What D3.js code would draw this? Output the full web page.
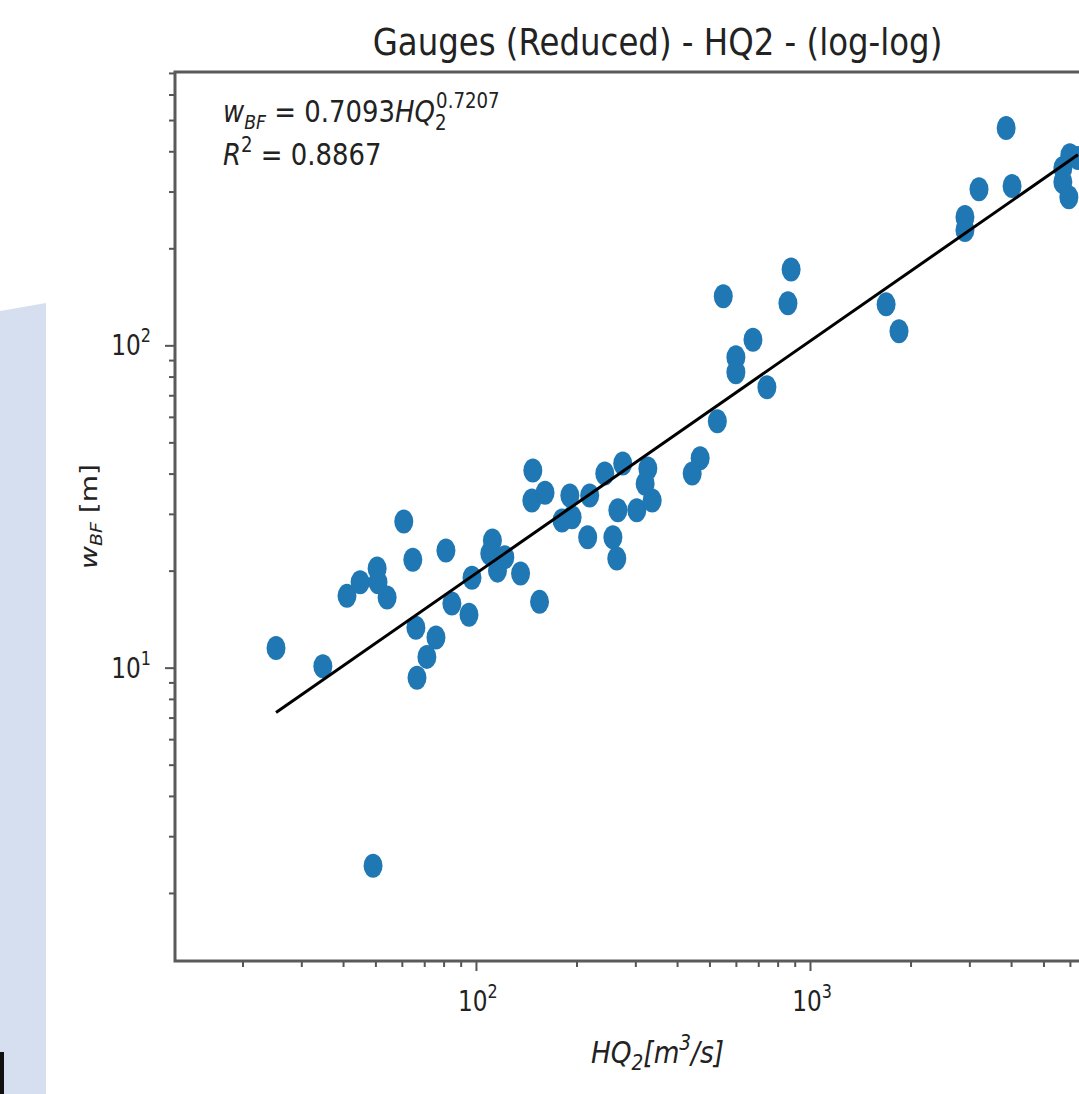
<!DOCTYPE html>
<html>
<head>
<meta charset="utf-8">
<script src="https://cdn.jsdelivr.net/npm/d3@7"></script>
<style>
  body { margin: 0; background: #fff; }
  svg { display: block; }
  text { font-family: "DejaVu Sans", sans-serif; fill: #222; }
</style>
</head>
<body>
<script>
// HQ2 [m3/s] and bankfull width [m]
var hq = [25.2, 34.8, 41.1, 45.0, 50.6, 50.9, 54.2, 60.8, 64.7, 81.3,
          66.1, 75.9, 71.3, 66.6, 84.7, 95.3, 97.3, 49.2, 112, 110,
          122, 116, 136, 155, 148, 147, 161, 191, 181, 194,
          219, 243, 275, 216, 257, 264, 266, 303, 327, 321,
          337, 469, 444, 528, 600, 600, 675, 743, 550, 859,
          878, 1690, 1847, 2910, 2910, 3206, 4027, 3866, 5997, 5715,
          5715, 5957, 6340]
var wbf = [11.5, 10.1, 16.7, 18.4, 20.3, 18.4, 16.5, 28.4, 21.6, 23.1,
           13.3, 12.4, 10.8, 9.3, 15.8, 14.6, 19.0, 2.43, 24.8, 22.6,
           22.0, 20.0, 19.6, 16.0, 40.9, 33.0, 34.9, 34.2, 28.6, 29.3,
           34.2, 40.0, 43.0, 25.4, 25.4, 21.8, 30.8, 30.8, 41.5, 37.2,
           33.0, 44.6, 40.0, 58.1, 91.8, 82.5, 104, 74.1, 142, 135,
           172, 134, 110.5, 250, 228, 305, 312, 472, 389, 355,
           321, 288, 381]
// fit w = a * HQ^b
var fitCoef = 0.7093
var fitExp = 0.7207
var r2 = 0.8867
var titleText = "Gauges (Reduced) - HQ2 - (log-log)"

var main = function() {
  var width = 1079, height = 1094

  var svg = d3.select("body").append("svg")
              .attr("width", width)
              .attr("height", height)

  // pale panel + dark bar on the left edge of the screenshot
  svg.append("polygon")
     .attr("points", "0,311 46,303 46,1094 0,1094")
     .attr("fill", "#d6dfef")
  svg.append("rect")
     .attr("x", 0).attr("y", 1052).attr("width", 4).attr("height", 42)
     .attr("fill", "#111")

  var pl = 175, pr = 1140, pt = 72, pb = 961

  var x = d3.scaleLog().domain([12.56, 9727]).range([pl, pr])
  var y = d3.scaleLog().domain([1.23, 704.7]).range([pb, pt])

  var pts = hq.map(function(d, i) { return [d, wbf[i]] })

  // points
  svg.append("g").selectAll("ellipse")
     .data(pts)
     .enter()
       .append("ellipse")
       .attr("cx", function(d) { return x(d[0]) })
       .attr("cy", function(d) { return y(d[1]) })
       .attr("rx", 9.5)
       .attr("ry", 12)
       .attr("fill", "#1f77b4")

  // fitted line across the data range
  var fit = [d3.min(hq), d3.max(hq)].map(function(q) { return [q, fitCoef * Math.pow(q, fitExp)] })
  svg.append("path")
     .attr("d", d3.line().x(function(d) { return x(d[0]) }).y(function(d) { return y(d[1]) })(fit))
     .attr("stroke", "#000")
     .attr("stroke-width", 3)
     .attr("fill", "none")

  // ticks
  var isMajor = function(v) { return Math.abs(Math.log10(v) - Math.round(Math.log10(v))) < 1e-9 }
  var xt = x.ticks().filter(function(v) { return v >= x.domain()[0] && v <= x.domain()[1] })
  var yt = y.ticks().filter(function(v) { return v >= y.domain()[0] && v <= y.domain()[1] })
  var notMajor = function(v) { return !isMajor(v) }

  svg.append("g").attr("transform", "translate(0," + pb + ")")
     .call(d3.axisBottom(x).tickValues(xt.filter(notMajor)).tickSize(6).tickFormat(""))
  svg.append("g").attr("transform", "translate(0," + pb + ")")
     .call(d3.axisBottom(x).tickValues(xt.filter(isMajor)).tickSize(10).tickFormat(""))
  svg.append("g").attr("transform", "translate(" + pl + ",0)")
     .call(d3.axisLeft(y).tickValues(yt.filter(notMajor)).tickSize(6).tickFormat(""))
  svg.append("g").attr("transform", "translate(" + pl + ",0)")
     .call(d3.axisLeft(y).tickValues(yt.filter(isMajor)).tickSize(10).tickFormat(""))
  svg.selectAll(".domain").remove()
  svg.selectAll(".tick line").attr("stroke", "#555").attr("stroke-width", 2)

  // frame
  svg.append("rect")
     .attr("x", pl).attr("y", pt)
     .attr("width", pr - pl).attr("height", pb - pt)
     .attr("fill", "none")
     .attr("stroke", "#5a5a5a")
     .attr("stroke-width", 3)

  // tick labels, 10^n
  var powLabel = function(px, py, anchor, n) {
    var g = svg.append("g").attr("transform", "translate(" + px + "," + py + ") scale(0.8,1)")
    var t = g.append("text").attr("text-anchor", anchor).attr("font-size", 29)
    t.append("tspan").text("10")
    t.append("tspan").attr("font-size", 20).attr("dy", -13).text(n)
  }
  xt.filter(isMajor).forEach(function(v) {
    powLabel(x(v) + 2, 1011, "middle", Math.round(Math.log10(v)))
  })
  yt.filter(isMajor).forEach(function(v) {
    powLabel(151, y(v) + 10, "end", Math.round(Math.log10(v)))
  })

  // title
  svg.append("g").attr("transform", "translate(" + ((pl + pr) / 2) + ",55) scale(0.853,1)")
     .append("text")
     .attr("text-anchor", "middle")
     .attr("font-size", 38)
     .text(titleText)

  // x label
  var xl = svg.append("g").attr("transform", "translate(" + ((pl + pr) / 2) + ",1063) scale(0.88,1)")
              .append("text").attr("text-anchor", "middle").attr("font-size", 30).attr("font-style", "italic")
  xl.append("tspan").text("HQ")
  xl.append("tspan").attr("font-size", 21).attr("dy", 7).text("2")
  xl.append("tspan").attr("dy", -7).text("[m")
  xl.append("tspan").attr("font-size", 21).attr("dy", -13).text("3")
  xl.append("tspan").attr("dy", 13).text("/s]")

  // y label
  var yl = svg.append("g").attr("transform", "translate(97," + ((pt + pb) / 2) + ") rotate(-90) scale(1,0.85)")
              .append("text").attr("text-anchor", "middle").attr("font-size", 28)
  yl.append("tspan").attr("font-style", "italic").text("w")
  yl.append("tspan").attr("font-style", "italic").attr("font-size", 19).attr("dy", 6).text("BF")
  yl.append("tspan").attr("dy", -6).text(" [m]")

  // fit annotation (sub- and superscript stacked, as mathtext does)
  var a1 = svg.append("g").attr("transform", "translate(223,122) scale(0.865,1)")
              .append("text").attr("font-size", 30)
  a1.append("tspan").attr("font-style", "italic").text("w")
  a1.append("tspan").attr("font-style", "italic").attr("font-size", 20).attr("dy", 7).text("BF")
  a1.append("tspan").attr("dy", -7).text(" = " + fitCoef.toFixed(4))
  a1.append("tspan").attr("font-style", "italic").text("HQ")
  a1.append("tspan").attr("font-size", 21).attr("dy", 8).text("2")
  a1.append("tspan").attr("font-size", 21).attr("dx", -12).attr("dy", -22).text(fitExp.toFixed(4))

  var a2 = svg.append("g").attr("transform", "translate(223,165) scale(0.865,1)")
              .append("text").attr("font-size", 30)
  a2.append("tspan").attr("font-style", "italic").text("R")
  a2.append("tspan").attr("font-size", 21).attr("dy", -13).text("2")
  a2.append("tspan").attr("dy", 13).text(" = " + r2.toFixed(4))
}

main()
</script>
</body>
</html>
